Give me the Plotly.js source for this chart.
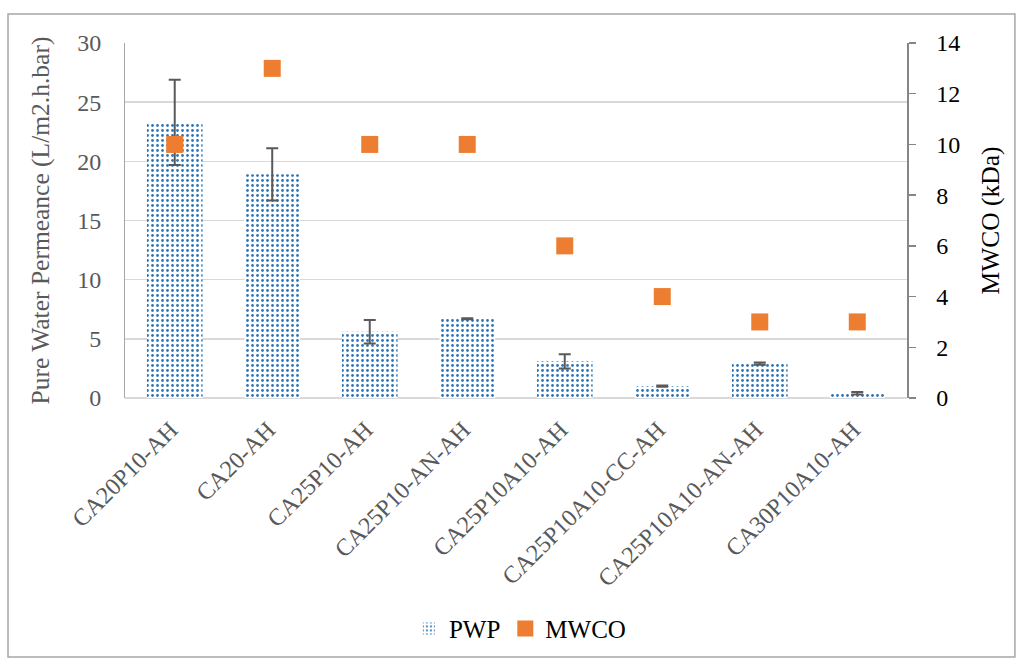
<!DOCTYPE html>
<html>
<head>
<meta charset="utf-8">
<script src="https://cdn.plot.ly/plotly-3.0.1.min.js"></script>
<style>
  html, body { margin: 0; padding: 0; background: #fff; }
  #chart { width: 1016px; height: 658px; }
</style>
</head>
<body>
<div id="chart"></div>
<script>
// Membrane samples
const samples = ["CA20P10-AH", "CA20-AH", "CA25P10-AH", "CA25P10-AN-AH",
                 "CA25P10A10-AH", "CA25P10A10-CC-AH", "CA25P10A10-AN-AH", "CA30P10A10-AH"];
// Pure water permeance (L/m2.h.bar) and its standard deviation
const pwp = [23.3, 18.9, 5.6, 6.7, 3.1, 1.0, 2.9, 0.4];
const pwpErr = [3.6, 2.2, 1.0, 0.05, 0.6, 0.05, 0.1, 0.1];
// Molecular weight cut-off (kDa)
const mwco = [10, 13, 10, 10, 6, 4, 3, 3];

const serif = "Liberation Serif";

const pwpTrace = {
  type: "bar",
  name: "PWP",
  x: samples,
  y: pwp,
  error_y: { type: "data", array: pwpErr, visible: true, color: "#595959", thickness: 2, width: 6 },
  marker: {
    color: "#ffffff",
    line: { width: 0 },
    pattern: { shape: ".", fgcolor: "#2e75b6", bgcolor: "#ffffff", size: 5, solidity: 0.24, fillmode: "replace" }
  },
  yaxis: "y"
};

const mwcoTrace = {
  type: "scatter",
  mode: "markers",
  name: "MWCO",
  x: samples,
  y: mwco,
  marker: { symbol: "square", size: 17, color: "#ed7d31" },
  yaxis: "y2"
};

const layout = {
  width: 1016,
  height: 658,
  font: { family: serif },
  margin: { l: 125, r: 109, t: 43, b: 260, autoexpand: false },
  paper_bgcolor: "#ffffff",
  plot_bgcolor: "#ffffff",
  bargap: 0.43,
  showlegend: true,
  legend: {
    orientation: "h",
    x: 0.505, xanchor: "center",
    y: -0.585, yanchor: "top",
    bgcolor: "rgba(0,0,0,0)",
    font: { family: serif, size: 25, color: "#000000" },
    itemwidth: 30,
    traceorder: "normal"
  },
  xaxis: {
    type: "category",
    tickangle: -45,
    tickfont: { family: serif, size: 24, color: "#595959" },
    ticklabelstandoff: 12,
    ticklabelshift: -4,
    showgrid: false,
    showline: false,
    ticks: "",
    zeroline: false
  },
  yaxis: {
    range: [0, 30],
    dtick: 5,
    tickfont: { family: serif, size: 24, color: "#595959" },
    title: { text: "Pure Water Permeance (L/m2.h.bar)", font: { family: serif, size: 25.5, color: "#595959" }, standoff: 20 },
    showgrid: true,
    gridcolor: "#d9d9d9",
    gridwidth: 1.5,
    zeroline: true,
    zerolinecolor: "#d9d9d9",
    zerolinewidth: 1.5,
    showline: true,
    linecolor: "#a6a6a6",
    linewidth: 1,
    ticks: "",
    ticklabelstandoff: 18
  },
  yaxis2: {
    overlaying: "y",
    side: "right",
    range: [0, 14],
    dtick: 2,
    tickfont: { family: serif, size: 24, color: "#000000" },
    title: { text: "MWCO (kDa)", font: { family: serif, size: 25.5, color: "#000000" }, standoff: 22 },
    showgrid: false,
    zeroline: false,
    showline: true,
    linecolor: "#868686",
    linewidth: 1.5,
    ticks: "outside",
    ticklen: 7,
    tickcolor: "#868686",
    tickwidth: 1.5,
    ticklabelstandoff: 16
  },
  shapes: [{
    type: "rect", xref: "paper", yref: "paper",
    x0: -0.1496, x1: 1.138, y0: -0.7296, y1: 1.0817,
    line: { color: "#a6a6a6", width: 1.5 },
    fillcolor: "rgba(0,0,0,0)"
  }]
};

Plotly.newPlot("chart", [pwpTrace, mwcoTrace], layout, { displayModeBar: false, staticPlot: true });
</script>
</body>
</html>
